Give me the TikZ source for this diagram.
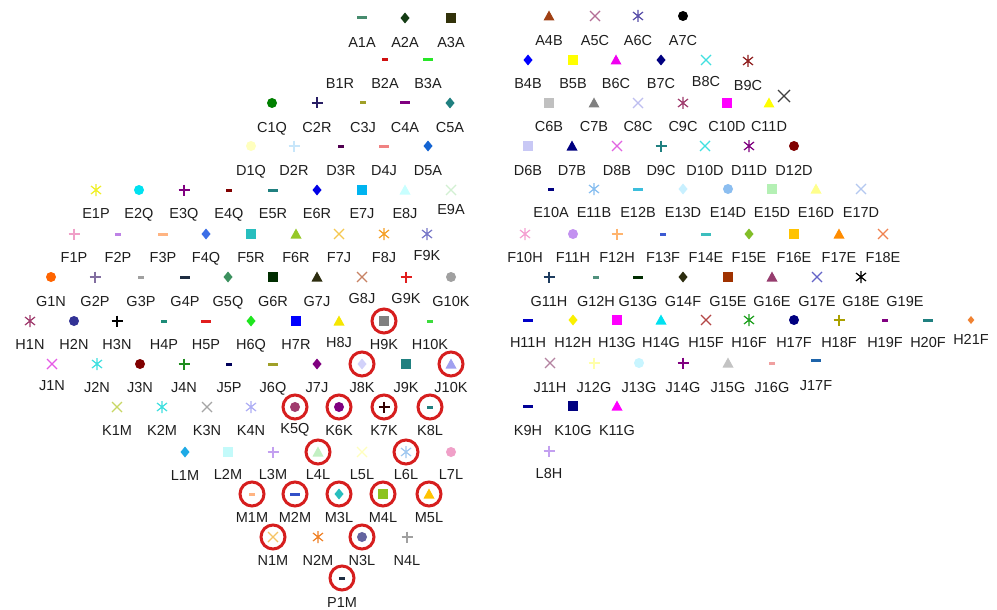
\documentclass[tikz,border=0pt]{standalone}
\usepackage{fontspec}
\setmainfont{Liberation Sans}
\begin{document}
\begin{tikzpicture}[x=1pt,y=-1pt,
  lbl/.style={font=\fontsize{14.5}{16}\selectfont, text=labelcol, inner sep=0pt,
              text height=10.4pt, text depth=0pt, anchor=center},
  ring/.style={draw=ringcol, line width=3pt},
  pics/sq/.style={code={\fill[mkcol] (-5,-5) rectangle (5,5);}},
  pics/ci/.style={code={\fill[mkcol] (0,0) circle (5);}},
  pics/di/.style={code={\fill[mkcol] (0,-5.5) -- (4.5,0) -- (0,5.5) -- (-4.5,0) -- cycle;}},
  pics/sdi/.style={code={\fill[mkcol] (0,-4) -- (3.3,0) -- (0,4) -- (-3.3,0) -- cycle;}},
  pics/tr/.style={code={\fill[mkcol] (0,-5.5) -- (5.5,4.5) -- (-5.5,4.5) -- cycle;}},
  pics/xx/.style={code={\draw[mkcol, line width=1.2pt] (-5,-5) -- (5,5) (-5,5) -- (5,-5);}},
  pics/pl/.style={code={\draw[mkcol, line width=1.3pt] (-5.5,0) -- (5.5,0) (0,-5.5) -- (0,5.5);}},
  pics/as/.style={code={\draw[mkcol, line width=1.2pt] (0,-6) -- (0,6) (-5,-4) -- (5,4) (-5,4) -- (5,-4);}},
  pics/ld/.style={code={\fill[mkcol] (-5,-1.5) rectangle (5,1.5);}},
  pics/sd/.style={code={\fill[mkcol] (-3,-1.5) rectangle (3,1.5);}},
  pics/blank/.style={code={}}]
\definecolor{labelcol}{HTML}{1E1E1E}
\definecolor{ringcol}{HTML}{D61E1E}
\definecolor{mkcol}{HTML}{000000}
% one entry: name, x, marker y, label y, marker kind, marker colour
\newcommand\mk[6]{%
  \definecolor{mkcol}{HTML}{#6}%
  \coordinate (#1m) at (#2,#3);
  \pic at (#1m) {#5};
  \node[lbl] (#1) at (#2,#4) {#1};
}
\useasboundingbox (0,0) rectangle (997,610);
\fill[white] (0,0) rectangle (997,610);

% row A
\mk{A1A}{362}{18}{42}{ld}{468C6E}
\mk{A2A}{405}{18}{42}{di}{143C14}
\mk{A3A}{451}{18}{42}{sq}{32320A}
\mk{A4B}{549}{16}{40}{tr}{A04014}
\mk{A5C}{595}{16}{40}{xx}{B46E96}
\mk{A6C}{638}{16}{40}{as}{5A50AA}
\mk{A7C}{683}{16}{40}{ci}{000000}
% row B
\mk{B1R}{340}{60}{83}{blank}{FFFFFF}
\mk{B2A}{385}{60}{83}{sd}{D01010}
\mk{B3A}{428}{60}{83}{ld}{28E628}
\mk{B4B}{528}{60}{83}{di}{0000FF}
\mk{B5B}{573}{60}{83}{sq}{FFFF00}
\mk{B6C}{616}{60}{83}{tr}{F000F0}
\mk{B7C}{661}{60}{83}{di}{000080}
\mk{B8C}{706}{60}{81}{xx}{40E0E0}
\mk{B9C}{748}{61}{85}{as}{902020}
% row C
\mk{C1Q}{272}{103}{127}{ci}{008000}
\mk{C2R}{317}{103}{127}{pl}{281E64}
\mk{C3J}{363}{103}{127}{sd}{A0A028}
\mk{C4A}{405}{103}{127}{ld}{800080}
\mk{C5A}{450}{103}{127}{di}{208080}
\mk{C6B}{549}{103}{126}{sq}{C0C0C0}
\mk{C7B}{594}{103}{126}{tr}{808080}
\mk{C8C}{638}{103}{126}{xx}{BEBEF0}
\mk{C9C}{683}{103}{126}{as}{A03C6E}
\mk{C10D}{727}{103}{126}{sq}{FF00FF}
\mk{C11D}{769}{103}{126}{tr}{FFFF00}
\draw[line width=1.3pt, color={rgb,255:red,64;green,64;blue,64}]
  (778,90) -- (790,102) (778,102) -- (790,90);
% row D
\mk{D1Q}{251}{146}{170}{ci}{FFFFBE}
\mk{D2R}{294}{146}{170}{pl}{C8E6FA}
\mk{D3R}{341}{146}{170}{sd}{500050}
\mk{D4J}{384}{146}{170}{ld}{F08282}
\mk{D5A}{428}{146}{170}{di}{1464D2}
\mk{D6B}{528}{146}{170}{sq}{C8C8F5}
\mk{D7B}{572}{146}{170}{tr}{000080}
\mk{D8B}{617}{146}{170}{xx}{E164E1}
\mk{D9C}{661}{146}{170}{pl}{208080}
\mk{D10D}{705}{146}{170}{xx}{40E0E0}
\mk{D11D}{749}{146}{170}{as}{800080}
\mk{D12D}{794}{146}{170}{ci}{800000}
% row E
\mk{E1P}{96}{190}{213}{as}{F0F028}
\mk{E2Q}{139}{190}{213}{ci}{00E1F0}
\mk{E3Q}{184}{190}{213}{pl}{800080}
\mk{E4Q}{229}{190}{213}{sd}{800000}
\mk{E5R}{273}{190}{213}{ld}{208080}
\mk{E6R}{317}{190}{213}{di}{0000E6}
\mk{E7J}{362}{190}{213}{sq}{00B4F0}
\mk{E8J}{405}{190}{213}{tr}{C8FFFF}
\mk{E9A}{451}{190}{209}{xx}{D2F0D2}
\mk{E10A}{551}{189}{212}{sd}{000080}
\mk{E11B}{594}{189}{212}{as}{87BEF0}
\mk{E12B}{638}{189}{212}{ld}{3CBEDC}
\mk{E13D}{683}{189}{212}{di}{C8F0FF}
\mk{E14D}{728}{189}{212}{ci}{8CBEF0}
\mk{E15D}{772}{189}{212}{sq}{B4F0B4}
\mk{E16D}{816}{189}{212}{tr}{FFFF8C}
\mk{E17D}{861}{189}{212}{xx}{B4C8F0}
% row F
\mk{F1P}{74}{234}{257}{pl}{F0A0C8}
\mk{F2P}{118}{234}{257}{sd}{BE82E6}
\mk{F3P}{163}{234}{257}{ld}{FFB482}
\mk{F4Q}{206}{234}{257}{di}{3C6EE6}
\mk{F5R}{251}{234}{257}{sq}{28BEBE}
\mk{F6R}{296}{234}{257}{tr}{96C828}
\mk{F7J}{339}{234}{257}{xx}{F5C850}
\mk{F8J}{384}{234}{257}{as}{F5A028}
\mk{F9K}{427}{234}{255}{as}{7878C8}
\mk{F10H}{525}{234}{257}{as}{F5A0D2}
\mk{F11H}{573}{234}{257}{ci}{C391F0}
\mk{F12H}{617}{234}{257}{pl}{FFB46E}
\mk{F13F}{663}{234}{257}{sd}{3C5AD2}
\mk{F14E}{706}{234}{257}{ld}{3CBEBE}
\mk{F15E}{749}{234}{257}{di}{82BE28}
\mk{F16E}{794}{234}{257}{sq}{FFC300}
\mk{F17E}{839}{234}{257}{tr}{FF8C00}
\mk{F18E}{883}{234}{257}{xx}{F08250}
% row G
\mk{G1N}{51}{277}{301}{ci}{FF6400}
\mk{G2P}{95}{277}{301}{pl}{826EA0}
\mk{G3P}{141}{277}{301}{sd}{A0A0A0}
\mk{G4P}{185}{277}{301}{ld}{1E2D41}
\mk{G5Q}{228}{277}{301}{di}{3C915F}
\mk{G6R}{273}{277}{301}{sq}{002D00}
\mk{G7J}{317}{277}{301}{tr}{2D2D0F}
\mk{G8J}{362}{277}{298}{xx}{C88264}
\mk{G9K}{406}{277}{298}{pl}{E11E1E}
\mk{G10K}{451}{277}{301}{ci}{A0A0A0}
\mk{G11H}{549}{277}{301}{pl}{1E3C5F}
\mk{G12H}{596}{277}{301}{sd}{50917D}
\mk{G13G}{638}{277}{301}{ld}{002D00}
\mk{G14F}{683}{277}{301}{di}{2D2D0F}
\mk{G15E}{728}{277}{301}{sq}{A03200}
\mk{G16E}{772}{277}{301}{tr}{963C6E}
\mk{G17E}{817}{277}{301}{xx}{6464C8}
\mk{G18E}{861}{277}{301}{as}{000000}
\mk{G19E}{905}{277}{301}{blank}{FFFFFF}
% row H
\mk{H1N}{30}{321}{344}{as}{A03C6E}
\mk{H2N}{74}{321}{344}{ci}{323296}
\mk{H3N}{117}{321}{344}{pl}{000000}
\mk{H4P}{164}{321}{344}{sd}{1E8C78}
\mk{H5P}{206}{321}{344}{ld}{E11E1E}
\mk{H6Q}{251}{321}{344}{di}{1EE61E}
\mk{H7R}{296}{321}{344}{sq}{0000FF}
\mk{H8J}{339}{321}{342}{tr}{F5E600}
\mk{H9K}{384}{321}{344}{sq}{808080}
\mk{H10K}{430}{321}{344}{sd}{3CDC3C}
\mk{H11H}{528}{320}{342}{ld}{0000C8}
\mk{H12H}{573}{320}{342}{di}{FAF000}
\mk{H13G}{617}{320}{342}{sq}{FF00FF}
\mk{H14G}{661}{320}{342}{tr}{00E1F0}
\mk{H15F}{706}{320}{342}{xx}{B44646}
\mk{H16F}{749}{320}{342}{as}{1EA01E}
\mk{H17F}{794}{320}{342}{ci}{000080}
\mk{H18F}{839}{320}{342}{pl}{AAA000}
\mk{H19F}{885}{320}{342}{sd}{800080}
\mk{H20F}{928}{320}{342}{ld}{208080}
\mk{H21F}{971}{320}{339}{sdi}{F08232}
% row J
\mk{J1N}{52}{364}{385}{xx}{E65AE6}
\mk{J2N}{97}{364}{387}{as}{40E0E0}
\mk{J3N}{140}{364}{387}{ci}{800000}
\mk{J4N}{184}{364}{387}{pl}{1E8C1E}
\mk{J5P}{229}{364}{387}{sd}{00005A}
\mk{J6Q}{273}{364}{387}{ld}{A0A028}
\mk{J7J}{317}{364}{387}{di}{800080}
\mk{J8K}{362}{364}{387}{di}{D2D2FA}
\mk{J9K}{406}{364}{387}{sq}{208080}
\mk{J10K}{451}{364}{387}{tr}{A0A0F0}
\mk{J11H}{550}{363}{387}{xx}{B482A0}
\mk{J12G}{594}{363}{387}{pl}{FFFFAA}
\mk{J13G}{639}{363}{387}{ci}{C8F5FF}
\mk{J14G}{683}{363}{387}{pl}{800080}
\mk{J15G}{728}{363}{387}{tr}{C3C3C3}
\mk{J16G}{772}{363}{387}{sd}{F0A0A0}
\mk{J17F}{816}{360}{385}{ld}{1E64AA}
% row K
\mk{K1M}{117}{407}{430}{xx}{C8D764}
\mk{K2M}{162}{407}{430}{as}{40E0E0}
\mk{K3N}{207}{407}{430}{xx}{A5A5A5}
\mk{K4N}{251}{407}{430}{as}{AFAFF5}
\mk{K5Q}{295}{407}{428}{ci}{A03C6E}
\mk{K6K}{339}{407}{430}{ci}{800080}
\mk{K7K}{384}{407}{430}{pl}{320000}
\mk{K8L}{430}{407}{430}{sd}{208080}
\mk{K9H}{528}{406}{430}{ld}{000096}
\mk{K10G}{573}{406}{430}{sq}{000080}
\mk{K11G}{617}{406}{430}{tr}{FF00FF}
% row L
\mk{L1M}{185}{452}{475}{di}{1EAAE6}
\mk{L2M}{228}{452}{474}{sq}{C3FAFA}
\mk{L3M}{273}{452}{474}{pl}{C3A0F0}
\mk{L4L}{318}{452}{474}{tr}{C3F0C3}
\mk{L5L}{362}{452}{474}{xx}{FFFFBE}
\mk{L6L}{406}{452}{474}{as}{A0C8F0}
\mk{L7L}{451}{452}{474}{ci}{F0A0C8}
\mk{L8H}{549}{451}{473}{pl}{C3A0F0}
% row M
\mk{M1M}{252}{494}{517}{sd}{FFB482}
\mk{M2M}{295}{494}{517}{ld}{3250C8}
\mk{M3L}{339}{494}{517}{di}{28BEBE}
\mk{M4L}{383}{494}{517}{sq}{8CC31E}
\mk{M5L}{429}{494}{517}{tr}{FFC300}
% row N
\mk{N1M}{273}{537}{560}{xx}{F5C364}
\mk{N2M}{318}{537}{560}{as}{F08228}
\mk{N3L}{362}{537}{560}{ci}{6464A0}
\mk{N4L}{407}{537}{560}{pl}{A0A0A0}
% row P
\mk{P1M}{342}{578}{602}{sd}{1E2D41}

% highlighted entries
\foreach \n in {H9K,J8K,J10K,K5Q,K6K,K7K,K8L,L4L,L6L,M1M,M2M,M3L,M4L,M5L,N1M,N3L,P1M}
  \draw[ring] (\n m) circle (12);
\end{tikzpicture}
\end{document}
